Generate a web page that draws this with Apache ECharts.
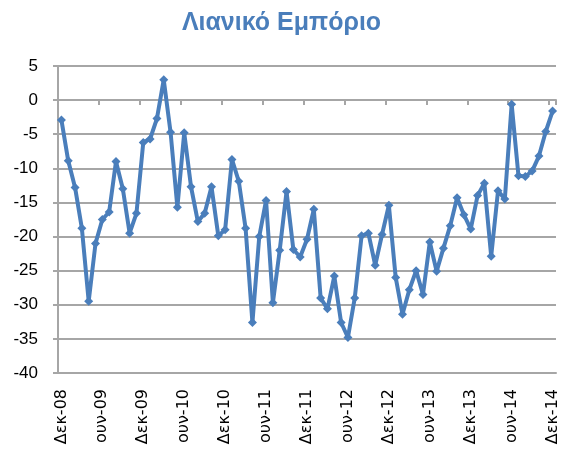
<!DOCTYPE html>
<html>
<head>
<meta charset="utf-8">
<script src="https://cdn.jsdelivr.net/npm/echarts@6/dist/echarts.min.js"></script>
<style>
  html, body { margin: 0; padding: 0; background: #fff; }
  #chart { width: 563px; height: 457px; }
</style>
</head>
<body>
<div id="chart"></div>
<script>
// monthly, Dec 2008 .. Dec 2014
let years = ['08', '09', '10', '11', '12', '13', '14'];
let monthNames = ['Ιαν', 'Φεβ', 'Μαρ', 'Απρ', 'Μαϊ', 'ουν', 'Ιουλ', 'Αυγ', 'Σεπ', 'Οκτ', 'Νοε', 'Δεκ'];

let months = ['Δεκ-08'];
for (let y = 1; y < years.length; y++) {
    monthNames.forEach(m => months.push(m + '-' + years[y]));
}

let retail = [
    -2.9, -8.9, -12.8, -18.8, -29.5, -21.0, -17.5, -16.4, -9.0, -13.0, -19.5, -16.6,
    -6.2, -5.7, -2.7, 3.0, -4.7, -15.7, -4.8, -12.7, -17.8, -16.6, -12.7, -19.9,
    -19.0, -8.7, -11.9, -18.8, -32.6, -20.0, -14.7, -29.7, -22.0, -13.4, -21.9, -23.0,
    -20.4, -16.0, -29.0, -30.6, -25.8, -32.6, -34.8, -29.0, -19.9, -19.5, -24.2, -19.7,
    -15.4, -26.0, -31.4, -27.8, -25.0, -28.5, -20.8, -25.1, -21.7, -18.4, -14.3, -16.8,
    -18.9, -14.0, -12.2, -22.9, -13.3, -14.5, -0.6, -11.1, -11.2, -10.4, -8.2, -4.6,
    -1.6
];

let gridColor = '#a6a6a6';
let lineColor = '#4a7ebb';

let chart = echarts.init(document.getElementById('chart'));

chart.setOption({
    animation: false,
    title: {
        text: 'Λιανικό Εμπόριο',
        left: 'center',
        top: 6,
        textStyle: {
            color: lineColor,
            fontFamily: 'Liberation Sans',
            fontWeight: 'bold',
            fontStyle: 'normal',
            fontSize: 25
        }
    },
    grid: { left: 58, right: 7, top: 66, bottom: 84 },
    xAxis: [{
        type: 'category',
        data: months,
        position: 'bottom',
        axisLine: { onZero: false, lineStyle: { color: gridColor, width: 2 } },
        axisTick: { show: false },
        axisLabel: {
            interval: 5,
            rotate: 90,
            margin: 16,
            color: '#000',
            fontFamily: 'DejaVu Sans',
            fontSize: 16
        }
    }, {
        type: 'category',
        data: months,
        position: 'bottom',
        axisLine: { onZero: true, lineStyle: { color: gridColor, width: 2 } },
        axisTick: { show: true, interval: 5, length: 5, lineStyle: { color: gridColor, width: 2 } },
        axisLabel: { show: false }
    }],
    yAxis: {
        type: 'value',
        min: -40,
        max: 5,
        interval: 5,
        axisLine: { show: true, lineStyle: { color: gridColor, width: 2 } },
        axisTick: { show: true, length: 5, lineStyle: { color: gridColor, width: 2 } },
        splitLine: { lineStyle: { color: gridColor, width: 2 } },
        axisLabel: {
            margin: 20,
            color: '#000',
            fontFamily: 'Liberation Sans',
            fontSize: 17
        }
    },
    series: [{
        type: 'line',
        data: retail,
        xAxisIndex: 0,
        symbol: 'diamond',
        symbolSize: 9,
        showAllSymbol: true,
        lineStyle: { color: lineColor, width: 4 },
        itemStyle: { color: lineColor }
    }]
});
</script>
</body>
</html>
